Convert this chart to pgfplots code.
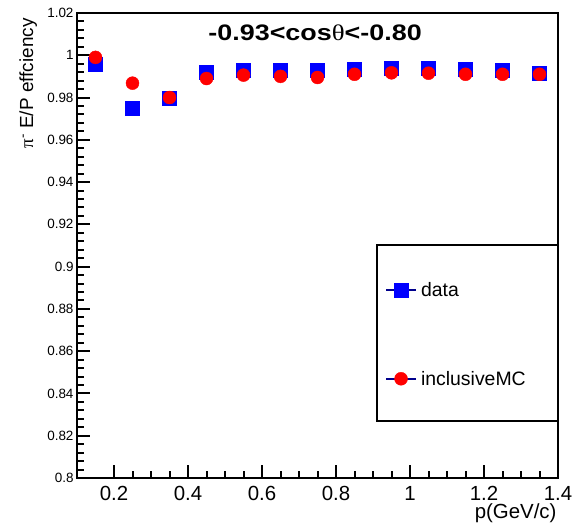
\documentclass[border=0pt]{standalone}
\usepackage{pgfplots}
\pgfplotsset{compat=1.18}
\usepackage{fontspec}
\setmainfont{Liberation Sans}
\newfontfamily\serifgreek{Liberation Serif}
\definecolor{legnavy}{RGB}{0,0,140}
\begin{document}
\begin{tikzpicture}[x=1bp,y=1bp]
\path[use as bounding box] (0,0) rectangle (574,528);
\begin{axis}[
  at={(77bp,50bp)}, anchor=south west,
  scale only axis, width=481bp, height=465bp,
  xmin=0.1, xmax=1.4, ymin=0.8, ymax=1.02,
  axis line style={line width=2bp},
  xtick={0.2,0.4,0.6,0.8,1,1.2,1.4},
  ytick={0.8,0.82,0.84,0.86,0.88,0.9,0.92,0.94,0.96,0.98,1,1.02},
  minor x tick num=3, minor y tick num=4,
  tick align=inside, xtick pos=left, ytick pos=left,
  major tick length=13bp, minor tick length=7bp,
  every tick/.style={line width=2bp, black},
  /pgf/number format/assume math mode=true,
  xticklabel style={font=\fontsize{20.5}{20.5}\selectfont, yshift=-5bp},
  yticklabel style={font=\fontsize{13.5}{13.5}\selectfont},
  clip=false,
  legend style={draw=none, fill=none, at={(0.640,0.3086)}, anchor=west,
    inner sep=0pt, row sep=69bp, column sep=2bp,
    font=\fontsize{19.5}{19.5}\selectfont},
  legend cell align=left,
  legend image code/.code={
    \draw[draw=legnavy, line width=2bp] (0bp,0bp) -- (30bp,0bp);
    \draw[mark repeat=2,mark phase=2] plot coordinates {(0bp,0bp) (15bp,0bp) (30bp,0bp)};
  },
]
\addplot[only marks, mark=square*, mark size=7bp, color=blue] coordinates {
 (0.15,0.9958) (0.25,0.975) (0.35,0.9797) (0.45,0.992) (0.55,0.993)
 (0.65,0.993) (0.75,0.993) (0.85,0.9935) (0.95,0.994) (1.05,0.994)
 (1.15,0.9935) (1.25,0.993) (1.35,0.9915)};
\addlegendentry{data}
\addplot[only marks, mark=*, mark size=6.5bp, color=red] coordinates {
 (0.15,0.999) (0.25,0.9868) (0.35,0.980) (0.45,0.989) (0.55,0.9906)
 (0.65,0.990) (0.75,0.9895) (0.85,0.991) (0.95,0.9917) (1.05,0.9915)
 (1.15,0.991) (1.25,0.991) (1.35,0.991)};
\addlegendentry{inclusiveMC}
\node[font=\bfseries\fontsize{22.5}{22.5}\selectfont, xscale=1.2] at (axis description cs:0.495,0.957)
  {-0.93<cos{\serifgreek\mdseries θ}<-0.80};
\end{axis}
\draw[line width=2bp] (377,107) rectangle (558,283);
\node[rotate=90, anchor=base east, font=\fontsize{19}{19}\selectfont] at (33,513)
  {{\serifgreek π}\textsuperscript{-} E/P effciency};
\node[anchor=base east, font=\fontsize{20.5}{20.5}\selectfont] at (560,9) {p(GeV/c)};
\end{tikzpicture}
\end{document}
